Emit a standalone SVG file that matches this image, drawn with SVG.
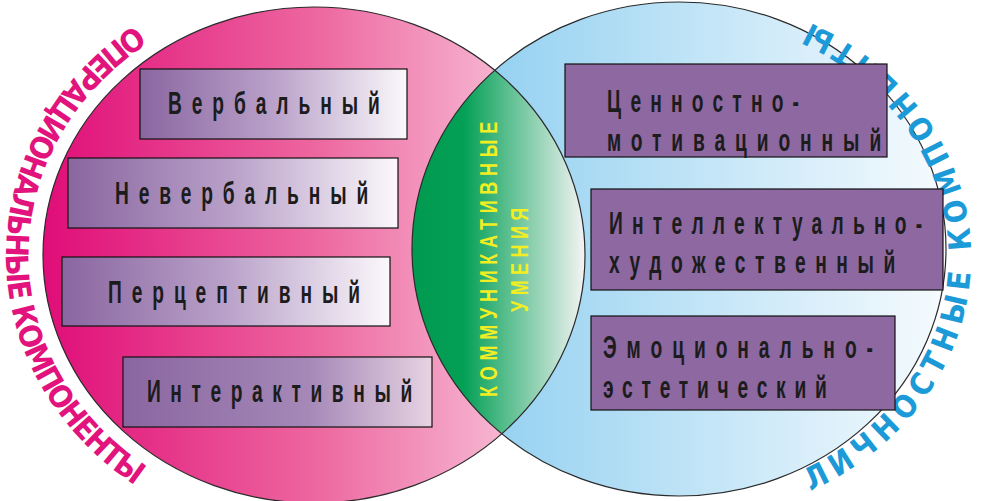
<svg xmlns="http://www.w3.org/2000/svg" width="997" height="501" viewBox="0 0 997 501">
<defs>
<linearGradient id="gPink" gradientUnits="userSpaceOnUse" x1="43" y1="0" x2="585" y2="0">
<stop offset="0" stop-color="#e00d78"/>
<stop offset="0.5" stop-color="#ed669f"/>
<stop offset="1" stop-color="#fbd8e7"/>
</linearGradient>
<linearGradient id="gBlue" gradientUnits="userSpaceOnUse" x1="412" y1="0" x2="946" y2="0">
<stop offset="0" stop-color="#84caef"/>
<stop offset="0.55" stop-color="#c3e5f7"/>
<stop offset="1" stop-color="#f6fbfe"/>
</linearGradient>
<linearGradient id="gGreen" gradientUnits="userSpaceOnUse" x1="412" y1="0" x2="585" y2="0">
<stop offset="0" stop-color="#009a4f"/>
<stop offset="0.3" stop-color="#04a056"/>
<stop offset="1" stop-color="#f4f4f4"/>
</linearGradient>
<linearGradient id="gBox" x1="0" y1="0" x2="1" y2="0">
<stop offset="0" stop-color="#8a66a0"/>
<stop offset="0.5" stop-color="#b9a1c9"/>
<stop offset="1" stop-color="#fbf8fb"/>
</linearGradient>
<linearGradient id="gBox4" x1="0" y1="0" x2="1" y2="0">
<stop offset="0" stop-color="#8a66a0"/>
<stop offset="0.6" stop-color="#a588b8"/>
<stop offset="1" stop-color="#e6d3e2"/>
</linearGradient>
<clipPath id="clipLeft">
<ellipse cx="314" cy="255" rx="271" ry="248"/>
</clipPath>
<path id="arcLeft" d="M 315 -28 A 309 283 0 0 0 315 538"/>
<path id="arcRight" d="M 679 519 A 292 262 0 0 0 679 -5"/>
</defs>
<style>
.outline{stroke:#2a2a2a;stroke-width:1.2;}
.box{stroke:#111;stroke-width:1.2;}
.rbox{fill:#8d68a1;stroke:#111;stroke-width:1.2;}
.lbl{font-family:"Liberation Sans",Arial,sans-serif;font-weight:bold;font-size:32px;fill:#1c1c1c;}
.lens{font-family:"Liberation Sans",Arial,sans-serif;font-weight:bold;font-size:24px;fill:#f2ee22;}
.arc{font-family:"Liberation Sans Narrow","DejaVu Sans Condensed","Liberation Sans",sans-serif;font-weight:bold;font-size:31px;}
</style>

<g id="circle-operational">
<ellipse cx="314" cy="255" rx="271" ry="248" fill="url(#gPink)"/>
</g>
<g id="circle-personal">
<ellipse cx="679" cy="249" rx="267" ry="247" fill="url(#gBlue)"/>
</g>
<g id="lens-communicative">
<ellipse cx="679" cy="249" rx="267" ry="247" fill="url(#gGreen)" clip-path="url(#clipLeft)"/>
<ellipse cx="314" cy="255" rx="271" ry="248" fill="none" class="outline"/>
<ellipse cx="679" cy="249" rx="267" ry="247" fill="none" class="outline"/>
<text class="lens" transform="translate(497,397) rotate(-90) scale(0.75,1)" textLength="367" lengthAdjust="spacing">КОММУНИКАТИВНЫЕ</text>
<text class="lens" transform="translate(528,312) rotate(-90) scale(0.75,1)" textLength="139" lengthAdjust="spacing">УМЕНИЯ</text>
</g>

<g id="label-operational">
<text class="arc" fill="#e2137c"><textPath href="#arcLeft" startOffset="50%" text-anchor="middle" textLength="550" lengthAdjust="spacing">ОПЕРАЦИОНАЛЬНЫЕ КОМПОНЕНТЫ</textPath></text>
</g>
<g id="label-personal">
<text class="arc" fill="#1c9ad8"><textPath href="#arcRight" startOffset="50%" text-anchor="middle" textLength="600" lengthAdjust="spacing">ЛИЧНОСТНЫЕ КОМПОНЕНТЫ</textPath></text>
</g>

<g id="node-verbal">
<rect class="box" x="140" y="69" width="267" height="70" fill="url(#gBox)"/>
<text class="lbl" transform="translate(168,114) scale(0.6,1)" textLength="353" lengthAdjust="spacing">Вербальный</text>
</g>
<g id="node-nonverbal">
<rect class="box" x="68" y="158" width="330" height="70" fill="url(#gBox)"/>
<text class="lbl" transform="translate(115,204) scale(0.6,1)" textLength="422" lengthAdjust="spacing">Невербальный</text>
</g>
<g id="node-perceptive">
<rect class="box" x="62" y="257" width="328" height="69" fill="url(#gBox)"/>
<text class="lbl" transform="translate(108,303) scale(0.6,1)" textLength="420" lengthAdjust="spacing">Перцептивный</text>
</g>
<g id="node-interactive">
<rect class="box" x="123" y="357" width="309" height="70" fill="url(#gBox4)"/>
<text class="lbl" transform="translate(147,402) scale(0.6,1)" textLength="442" lengthAdjust="spacing">Интерактивный</text>
</g>

<g id="node-value">
<rect class="rbox" x="565" y="64" width="322" height="93"/>
<text class="lbl" transform="translate(607,112) scale(0.6,1)" textLength="320" lengthAdjust="spacing">Ценностно-</text>
<text class="lbl" transform="translate(607,151) scale(0.6,1)" textLength="457" lengthAdjust="spacing">мотивационный</text>
</g>
<g id="node-intellectual">
<rect class="rbox" x="591" y="189" width="352" height="101"/>
<text class="lbl" transform="translate(609,234) scale(0.6,1)" textLength="522" lengthAdjust="spacing">Интеллектуально-</text>
<text class="lbl" transform="translate(609,273) scale(0.6,1)" textLength="477" lengthAdjust="spacing">художественный</text>
</g>
<g id="node-emotional">
<rect class="rbox" x="591" y="316" width="304" height="94"/>
<text class="lbl" transform="translate(603,358) scale(0.6,1)" textLength="450" lengthAdjust="spacing">Эмоционально-</text>
<text class="lbl" transform="translate(603,398) scale(0.6,1)" textLength="373" lengthAdjust="spacing">эстетический</text>
</g>

<g id="connectors"/>
</svg>
